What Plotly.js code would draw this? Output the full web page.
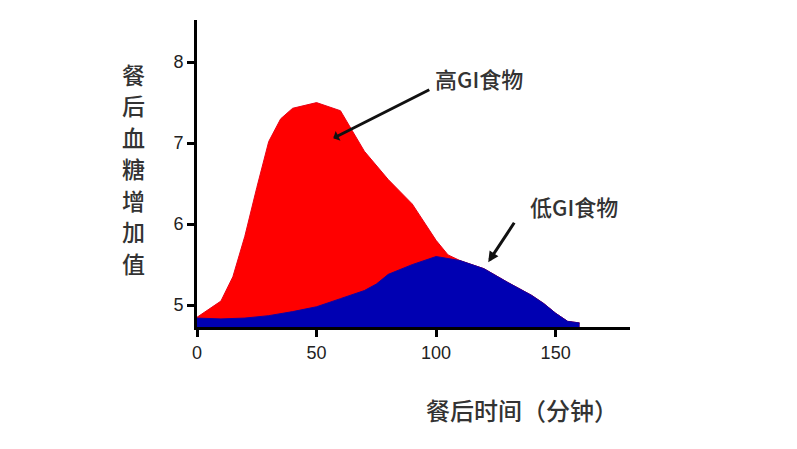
<!DOCTYPE html>
<html>
<head>
<meta charset="utf-8">
<script src="https://cdn.plot.ly/plotly-3.0.1.min.js"></script>
<style>html,body{margin:0;padding:0;background:#fff;}#chart{width:797px;height:449px;}</style>
</head>
<body>
<div id="chart"></div>
<script>
// Data
const highX = [0, 5, 10, 15, 20, 25, 30, 35, 40, 50, 60, 65, 70, 80, 90, 100, 105, 110, 120, 130, 140, 145, 150, 155, 160];
const highY = [4.85, 4.95, 5.05, 5.35, 5.85, 6.45, 7.02, 7.3, 7.43, 7.5, 7.4, 7.15, 6.9, 6.55, 6.25, 5.8, 5.62, 5.55, 5.45, 5.28, 5.12, 5.02, 4.9, 4.8, 4.78];
const lowX = [0, 10, 20, 30, 40, 50, 60, 70, 75, 80, 90, 100, 110, 120, 130, 140, 145, 150, 155, 160];
const lowY = [4.84, 4.83, 4.84, 4.87, 4.92, 4.98, 5.08, 5.18, 5.26, 5.38, 5.5, 5.6, 5.55, 5.45, 5.28, 5.12, 5.02, 4.9, 4.8, 4.78];
const xTicks = [0, 50, 100, 150];
const yTicks = [5, 6, 7, 8];
const labelHigh = '高GI食物';
const labelLow = '低GI食物';
const yTitle = '餐后血糖增加值';
const xTitle = '餐后时间（分钟）';

const cjk = '"Noto Sans CJK SC", "Noto Sans", sans-serif';
const latin = '"Liberation Sans", Arial, sans-serif';

const traces = [
  {x: highX, y: highY, type: 'scatter', mode: 'lines', fill: 'tozeroy',
   fillcolor: 'rgb(255,0,0)', line: {color: 'rgb(235,0,20)', width: 1, shape: 'linear'}, hoverinfo: 'skip'},
  {x: lowX, y: lowY, type: 'scatter', mode: 'lines', fill: 'tozeroy',
   fillcolor: 'rgb(0,0,178)', line: {color: 'rgb(20,0,160)', width: 1, shape: 'linear'}, hoverinfo: 'skip'}
];

// vertical y-axis title: one annotation per character
const yTitleChars = yTitle.split('');
const pitch = 31.5;          // px between characters
const plotH = 449 - 20 - 122;
const centerPx = 168;        // vertical centre of the title in page px
const titleAnns = yTitleChars.map((ch, i) => {
  const py = centerPx + (i - (yTitleChars.length - 1) / 2) * pitch;
  return {x: -0.1455, y: (327 - py) / plotH, xref: 'paper', yref: 'paper', text: ch,
    showarrow: false, xanchor: 'center', yanchor: 'middle', borderpad: 0,
    font: {family: cjk, size: 23, color: '#333', weight: 500}};
});

const layout = {
  width: 797, height: 449,
  margin: {l: 197, r: 167, t: 20, b: 122},
  paper_bgcolor: '#ffffff', plot_bgcolor: '#ffffff',
  showlegend: false,
  xaxis: {range: [0, 181.1], tickvals: xTicks, ticktext: xTicks.map(String),
    showgrid: false, zeroline: false, showline: true, linecolor: '#000', linewidth: 3,
    ticks: 'outside', ticklen: 7, tickwidth: 3, tickcolor: '#000',
    tickfont: {family: latin, size: 18, color: '#222'}},
  yaxis: {range: [4.73, 8.52], tickvals: yTicks, ticktext: yTicks.map(String),
    showgrid: false, zeroline: false, showline: true, linecolor: '#000', linewidth: 3,
    ticks: 'outside', ticklen: 7, tickwidth: 3, tickcolor: '#000',
    tickfont: {family: latin, size: 18, color: '#222'}},
  annotations: [
    {x: 57, y: 7.06, xref: 'x', yref: 'y', text: ' ', showarrow: true,
     ax: 99, ay: -50, arrowhead: 1, arrowsize: 0.6, arrowwidth: 3, arrowcolor: '#111', standoff: 0},
    {x: 121.8, y: 5.53, xref: 'x', yref: 'y', text: ' ', showarrow: true,
     ax: 29, ay: -44, arrowhead: 2, arrowsize: 0.7, arrowwidth: 3, arrowcolor: '#111', standoff: 0},
    {x: 98.7, y: 7.80, xref: 'x', yref: 'y', text: labelHigh, showarrow: false,
     xanchor: 'left', yanchor: 'middle', font: {family: cjk, size: 22, color: '#333', weight: 500}},
    {x: 138.5, y: 6.23, xref: 'x', yref: 'y', text: labelLow, showarrow: false,
     xanchor: 'left', yanchor: 'middle', font: {family: cjk, size: 22, color: '#333', weight: 500}},
    {x: 0.75, y: -0.27, xref: 'paper', yref: 'paper', text: xTitle, showarrow: false,
     xanchor: 'center', yanchor: 'middle', font: {family: cjk, size: 24, color: '#333', weight: 500}}
  ].concat(titleAnns)
};

Plotly.newPlot('chart', traces, layout, {displayModeBar: false, staticPlot: true});
</script>
</body>
</html>
